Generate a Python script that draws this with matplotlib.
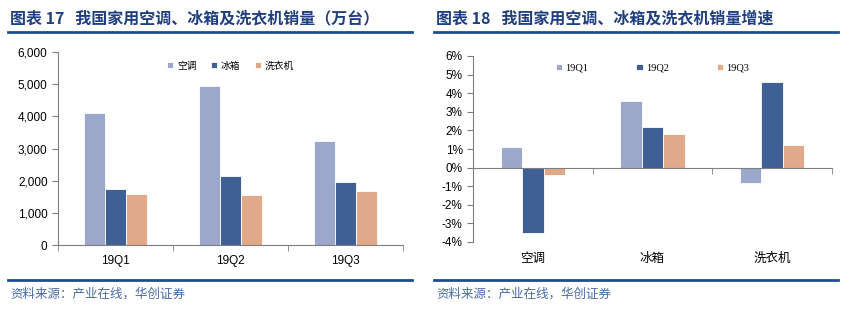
import numpy as np
import matplotlib
matplotlib.use("Agg")
from matplotlib import pyplot as plt
from matplotlib.transforms import blended_transform_factory

plt.rcParams['font.family'] = ['Liberation Sans', 'Noto Sans CJK SC', 'DejaVu Sans']

# data
quarters = ["19Q1", "19Q2", "19Q3"]
products = ["空调", "冰箱", "洗衣机"]
sales_ac = [4100, 4930, 3230]
sales_fridge = [1730, 2130, 1960]
sales_washer = [1600, 1550, 1670]

growth_q1 = [1.1, 3.6, -0.85]
growth_q2 = [-3.5, 2.2, 4.6]
growth_q3 = [-0.4, 1.8, 1.2]

colors = ["#9BA8CB", "#3F6094", "#E0A98A"]
title_color = "#1F3F7F"
axis_color = "#7F7F7F"

fig = plt.figure(figsize=(8.66, 3.31), dpi=100)

# titles and rules
fig.text(10/866, 1-18/331, "图表 17   我国家用空调、冰箱及洗衣机销量（万台）",
         family=['Noto Sans CJK SC'], fontweight='bold', fontsize=11.5,
         color=title_color, va='center')
fig.text(436/866, 1-18/331, "图表 18   我国家用空调、冰箱及洗衣机销量增速",
         family=['Noto Sans CJK SC'], fontweight='bold', fontsize=11.5,
         color=title_color, va='center')
for x0, x1 in [(8, 412), (434, 838)]:
    fig.add_artist(plt.Line2D([x0/866, x1/866], [1-32/331]*2, color="#1F4E8C", lw=2))
    fig.add_artist(plt.Line2D([x0/866, x1/866], [1-280/331]*2, color="#1F4E8C", lw=2))
fig.text(10/866, 1-294/331, "资料来源：产业在线，华创证券", family=['Noto Sans CJK SC'],
         fontsize=9, color="#4A6AA8", va='center', style='italic')
fig.text(436/866, 1-294/331, "资料来源：产业在线，华创证券", family=['Noto Sans CJK SC'],
         fontsize=9, color="#4A6AA8", va='center', style='italic')

w = 0.18

# left chart
ax1 = fig.add_axes([58/866, 1-245/331, 345/866, 193/331])
x = np.arange(len(quarters))
for i, (vals, lab) in enumerate(zip([sales_ac, sales_fridge, sales_washer], products)):
    ax1.bar(x + (i-1)*w, vals, w, color=colors[i], edgecolor='white', linewidth=0.6, label=lab)
ax1.set_xlim(-0.5, 2.5)
ax1.set_ylim(0, 6000)
ax1.set_yticks(np.arange(0, 6001, 1000))
ax1.set_yticklabels([f"{v:,}" for v in range(0, 6001, 1000)])
ax1.set_xticks(x)
ax1.set_xticklabels(quarters)
ax1.set_xticks([-0.5, 0.5, 1.5, 2.5], minor=True)
ax1.tick_params(axis='x', which='major', length=0, labelsize=8.5, pad=7)
ax1.tick_params(axis='x', which='minor', length=4, color=axis_color)
ax1.tick_params(axis='y', length=4, color=axis_color, labelsize=8.5)
for s in ['top', 'right']:
    ax1.spines[s].set_visible(False)
for s in ['left', 'bottom']:
    ax1.spines[s].set_color(axis_color)
ax1.legend(loc='upper center', bbox_to_anchor=(0.5, 1.0), ncol=3, frameon=False,
           handlelength=0.6, handleheight=0.6, handletextpad=0.4, columnspacing=1.5,
           prop={'family': ['Noto Sans CJK SC'], 'size': 7})

# right chart
ax2 = fig.add_axes([473/866, 1-242/331, 359/866, 186/331])
x2 = np.arange(len(products))
for i, (vals, lab) in enumerate(zip([growth_q1, growth_q2, growth_q3], quarters)):
    ax2.bar(x2 + (i-1)*w, vals, w, color=colors[i], edgecolor='white', linewidth=0.6, label=lab)
ax2.set_xlim(-0.5, 2.5)
ax2.set_ylim(-4, 6)
ax2.set_yticks(np.arange(-4, 7, 1))
ax2.set_yticklabels([f"{v}%" for v in range(-4, 7)])
ax2.spines['bottom'].set_position(('data', 0))
ax2.set_xticks(x2)
ax2.set_xticklabels([])
ax2.set_xticks([-0.5, 0.5, 1.5, 2.5], minor=True)
ax2.tick_params(axis='x', which='major', length=0)
ax2.tick_params(axis='x', which='minor', length=4, color=axis_color)
ax2.tick_params(axis='y', length=4, color=axis_color, labelsize=8.5)
trans = blended_transform_factory(ax2.transData, ax2.transAxes)
for xi, lab in zip(x2, products):
    ax2.text(xi, -0.09, lab, transform=trans, ha='center', va='center',
             family=['Noto Sans CJK SC'], fontsize=9)
for s in ['top', 'right']:
    ax2.spines[s].set_visible(False)
for s in ['left', 'bottom']:
    ax2.spines[s].set_color(axis_color)
ax2.legend(loc='upper center', bbox_to_anchor=(0.5, 1.01), ncol=3, frameon=False,
           handlelength=0.6, handleheight=0.6, handletextpad=0.3, columnspacing=4.6,
           prop={'family': ['Liberation Serif'], 'size': 7.5})

fig.savefig("out.png", dpi=100)
